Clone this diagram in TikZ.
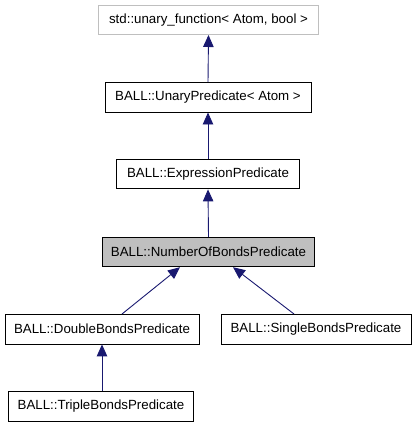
\documentclass[tikz,border=0pt]{standalone}
\usepackage{fontspec}
\setmainfont{Liberation Sans}
\usepackage{tikz}
\usetikzlibrary{arrows.meta,positioning}
\definecolor{dxBlue}{HTML}{191970}
\definecolor{dxGray}{HTML}{BFBFBF}
\tikzset{
  box/.style     ={draw=black,line width=0.9pt,fill=white,inner sep=0pt,
                   minimum height=29.5pt,font=\fontsize{13.3}{16}\selectfont},
  extbox/.style  ={box,draw=dxGray},
  curbox/.style  ={box,fill=dxGray},
  flow/.style    ={-{Triangle[length=12pt,width=10.5pt]},dxBlue,line width=0.9pt},
}
\begin{document}
\begin{tikzpicture}[x=1pt,y=-1pt]
\useasboundingbox (0,0) rectangle (416,427);
\node[extbox,minimum width=220.7pt] (unaryfn) at (208.5,19.8) {std::unary\_function< Atom, bool >};
\node[box,minimum width=206pt] (unarypred) at (208,97.3) {BALL::UnaryPredicate< Atom >};
\node[box,minimum width=182.3pt] (exprpred) at (208,174.2) {BALL::ExpressionPredicate};
\node[curbox,minimum width=212.3pt] (numbonds) at (208.5,252) {BALL::NumberOfBondsPredicate};
\node[box,minimum width=194pt] (doublebonds) at (102,329.2) {BALL::DoubleBondsPredicate};
\node[box,minimum width=190pt] (singlebonds) at (316,329.2) {BALL::SingleBondsPredicate};
\node[box,minimum width=184.3pt] (triplebonds) at (101,406.5) {BALL::TripleBondsPredicate};

\draw[flow] (unarypred.north) -- (unaryfn.south);
\draw[flow] (exprpred.north) -- (unarypred.south);
\draw[flow] (numbonds.north) -- (exprpred.south);
\draw[flow] ([xshift=20pt]doublebonds.north) -- ([xshift=-28.5pt]numbonds.south);
\draw[flow] ([xshift=-22pt]singlebonds.north) -- ([xshift=24.5pt]numbonds.south);
\draw[flow] (triplebonds.north -| doublebonds.north) -- (doublebonds.south);
\end{tikzpicture}
\end{document}
